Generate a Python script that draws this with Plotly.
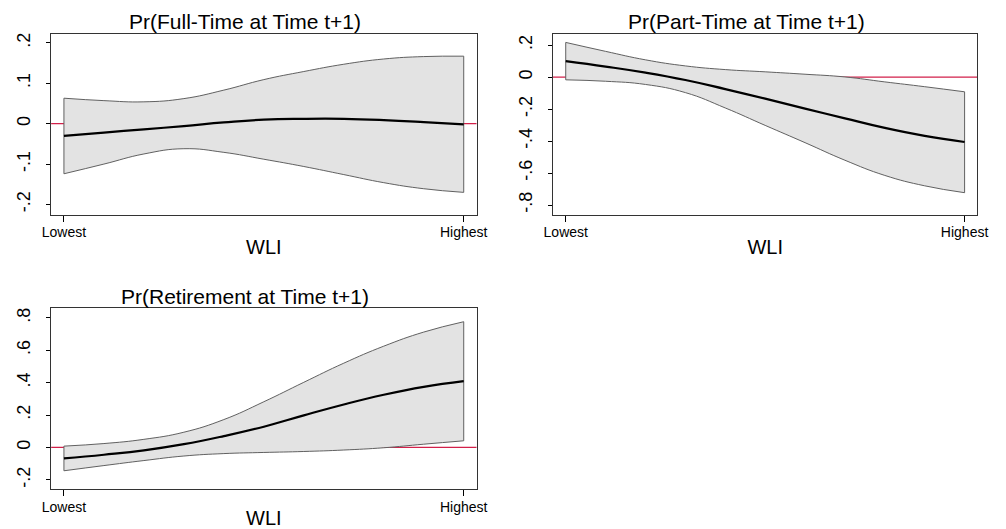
import plotly.graph_objects as go

# ---- data ----
wli = [0.0, 0.1, 0.2, 0.3, 0.4, 0.5, 0.6, 0.7, 0.8, 0.9, 1.0]

ft_est = [-0.030, -0.022, -0.014, -0.006, 0.003, 0.010, 0.012, 0.012, 0.009, 0.004, -0.002]
ft_hi = [0.063, 0.057, 0.054, 0.062, 0.083, 0.109, 0.129, 0.147, 0.160, 0.166, 0.167]
ft_lo = [-0.124, -0.100, -0.075, -0.062, -0.071, -0.088, -0.106, -0.126, -0.146, -0.161, -0.170]

pt_est = [0.100, 0.066, 0.028, -0.018, -0.075, -0.135, -0.197, -0.258, -0.318, -0.368, -0.406]
pt_hi = [0.217, 0.161, 0.108, 0.070, 0.047, 0.033, 0.018, 0.001, -0.030, -0.060, -0.092]
pt_lo = [-0.017, -0.026, -0.046, -0.097, -0.193, -0.302, -0.410, -0.520, -0.615, -0.680, -0.723]

rt_est = [-0.068, -0.045, -0.018, 0.020, 0.070, 0.128, 0.198, 0.265, 0.325, 0.374, 0.409]
rt_hi = [0.008, 0.024, 0.050, 0.094, 0.172, 0.282, 0.402, 0.520, 0.625, 0.712, 0.776]
rt_lo = [-0.144, -0.112, -0.081, -0.053, -0.038, -0.031, -0.025, -0.016, -0.002, 0.020, 0.041]

titles = ["Pr(Full-Time at Time t+1)", "Pr(Part-Time at Time t+1)", "Pr(Retirement at Time t+1)"]
x_ticktext = ["Lowest", "Highest"]
x_tickvals = [0, 1]
x_title = "WLI"

y_ticks = [
    ([0.2, 0.1, 0.0, -0.1, -0.2], [".2", ".1", "0", "-.1", "-.2"]),
    ([0.2, 0.0, -0.2, -0.4, -0.6, -0.8], [".2", "0", "-.2", "-.4", "-.6", "-.8"]),
    ([0.8, 0.6, 0.4, 0.2, 0.0, -0.2], [".8", ".6", ".4", ".2", "0", "-.2"]),
]
y_ranges = [[-0.225, 0.222], [-0.86, 0.27], [-0.257, 0.858]]

series = [(ft_est, ft_hi, ft_lo), (pt_est, pt_hi, pt_lo), (rt_est, rt_hi, rt_lo)]

W, H = 1006, 529
# panel boxes in pixels: (left, right, top, bottom)
boxes = [(43, 477, 33, 214), (555, 988, 33, 214), (43, 477, 308, 489)]

FONT = "Liberation Sans"
BAND_FILL = "#e3e3e3"
BAND_LINE = "#606060"
RED = "#d2204a"
SMOOTH = 1.3

fig = go.Figure()
layout = dict(
    width=W, height=H, margin=dict(l=0, r=0, t=0, b=0),
    paper_bgcolor="white", plot_bgcolor="white", showlegend=False,
    font=dict(family=FONT, color="black"),
)
annotations = []
shapes = []

for i, ((est, hi, lo), (l, r, t, b)) in enumerate(zip(series, boxes)):
    xa = "x" if i == 0 else f"x{i+1}"
    ya = "y" if i == 0 else f"y{i+1}"
    xkey = "xaxis" if i == 0 else f"xaxis{i+1}"
    ykey = "yaxis" if i == 0 else f"yaxis{i+1}"

    # band
    fig.add_trace(go.Scatter(x=wli, y=lo, mode="lines", xaxis=xa, yaxis=ya,
                             line=dict(color=BAND_LINE, width=1, shape="spline", smoothing=SMOOTH),
                             hoverinfo="skip"))
    fig.add_trace(go.Scatter(x=wli, y=hi, mode="lines", xaxis=xa, yaxis=ya,
                             fill="tonexty", fillcolor=BAND_FILL,
                             line=dict(color=BAND_LINE, width=1, shape="spline", smoothing=SMOOTH),
                             hoverinfo="skip"))
    # band end edges
    for k in (0, -1):
        fig.add_trace(go.Scatter(x=[wli[k], wli[k]], y=[lo[k], hi[k]], mode="lines",
                                 xaxis=xa, yaxis=ya,
                                 line=dict(color=BAND_LINE, width=1), hoverinfo="skip"))
    # estimate
    fig.add_trace(go.Scatter(x=wli, y=est, mode="lines", xaxis=xa, yaxis=ya,
                             line=dict(color="black", width=2.2, shape="spline", smoothing=SMOOTH)))

    # zero reference line across the box, below the band
    shapes.append(dict(type="line", xref=f"{xa} domain", yref=ya, x0=0, x1=1, y0=0, y1=0,
                       line=dict(color=RED, width=1.3), layer="below"))

    tv, tt = y_ticks[i]
    layout[xkey] = dict(
        domain=[l / W, r / W], range=[-0.032, 1.032], anchor=ya,
        showline=True, mirror=True, linecolor="#333333", linewidth=1,
        showgrid=False, zeroline=False,
        ticks="outside", ticklen=6, tickcolor="black", tickwidth=1,
        tickvals=x_tickvals, ticktext=x_ticktext,
        tickfont=dict(family=FONT, size=14, color="black"),
        ticklabelstandoff=-1,
        title=dict(text=x_title, font=dict(family=FONT, size=20, color="black"), standoff=0),
    )
    layout[ykey] = dict(
        domain=[1 - b / H, 1 - t / H], range=y_ranges[i], anchor=xa,
        showline=True, mirror=True, linecolor="#333333", linewidth=1,
        showgrid=False, zeroline=False,
        ticks="outside", ticklen=4, tickcolor="black", tickwidth=1,
        tickvals=tv, ticktext=tt, tickangle=-90,
        ticklabelstandoff=9,
        tickfont=dict(family=FONT, size=18, color="black"),
    )
    annotations.append(dict(
        text=titles[i], xref="paper", yref="paper",
        x=(l + r) / 2 / W - 19 / W, y=1 - (t - 12) / H,
        xanchor="center", yanchor="middle", showarrow=False,
        font=dict(family=FONT, size=21, color="black"),
    ))

layout["annotations"] = annotations
layout["shapes"] = shapes
fig.update_layout(**layout)
fig.write_html("out.html")
